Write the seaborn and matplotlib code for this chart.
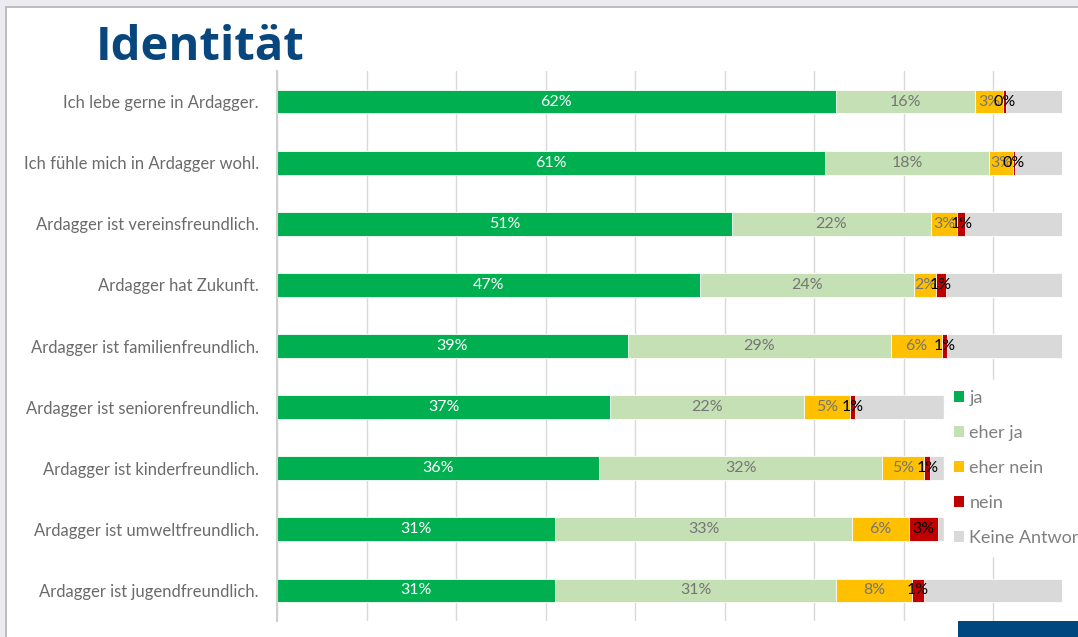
import numpy as np
import pandas as pd
import matplotlib
matplotlib.use("Agg")
import matplotlib.pyplot as plt
import seaborn as sns
from matplotlib.patches import Rectangle, Patch

# DATA (percent)
statements = [
    "Ich lebe gerne in Ardagger.",
    "Ich fühle mich in Ardagger wohl.",
    "Ardagger ist vereinsfreundlich.",
    "Ardagger hat Zukunft.",
    "Ardagger ist familienfreundlich.",
    "Ardagger ist seniorenfreundlich.",
    "Ardagger ist kinderfreundlich.",
    "Ardagger ist umweltfreundlich.",
    "Ardagger ist jugendfreundlich.",
]
ja = [62.4, 61.2, 50.8, 47.3, 39.2, 37.2, 36.0, 31.1, 31.1]
eher_ja = [15.6, 18.4, 22.3, 23.9, 29.4, 21.7, 31.6, 33.1, 31.4]
eher_nein = [3.1, 2.6, 2.9, 2.4, 5.7, 5.1, 4.7, 6.4, 8.4]
nein = [0.3, 0.3, 0.9, 1.1, 0.6, 0.6, 0.7, 3.2, 1.4]
keine_antwort = list(100 - np.array(ja) - np.array(eher_ja) - np.array(eher_nein) - np.array(nein))

series_names = ["ja", "eher ja", "eher nein", "nein", "Keine Antwort"]
series_values = [ja, eher_ja, eher_nein, nein, keine_antwort]
series_colors = ["#00B050", "#C5E0B4", "#FFC000", "#C00000", "#D9D9D9"]
label_colors = ["white", "#757575", "#757575", "black", None]

sns.set_style("white")
plt.rcParams['font.family'] = ['Lato', 'DejaVu Sans']

fig = plt.figure(figsize=(10.78, 6.37), dpi=100)
W, H = 1078, 637
ax = fig.add_axes([277 / W, (H - 621) / H, (1062 - 277) / W, 550 / H])

# stacked bars: draw cumulative totals from the back to the front
cum = np.cumsum(np.array(series_values), axis=0)
for i in range(len(series_names) - 1, -1, -1):
    df = pd.DataFrame({"stmt": statements, "val": cum[i]})
    sns.barplot(data=df, x="val", y="stmt", orient="h", color=series_colors[i],
                saturation=1, width=0.39, edgecolor="white", linewidth=0.6, ax=ax)

# segment labels
for i, vals in enumerate(series_values):
    if label_colors[i] is None:
        continue
    starts = cum[i] - np.array(vals)
    for row, (s, v) in enumerate(zip(starts, vals)):
        ax.text(s + v / 2, row, f"{v:.0f}%", ha="center", va="center",
                fontsize=11.5, color=label_colors[i], zorder=5)

ax.set_xlim(0, 87.7)
ax.set_xticks(np.arange(0, 90, 10))
ax.set_xticklabels([])
ax.tick_params(axis="x", length=0)
ax.tick_params(axis="y", length=0, labelsize=12, labelcolor="#6b6b6b", pad=13)
ax.set_xlabel("")
ax.set_ylabel("")
ax.grid(axis="x", color="#D9D9D9", linewidth=1)
ax.set_axisbelow(True)
for side in ["top", "right", "bottom"]:
    ax.spines[side].set_visible(False)
ax.spines["left"].set_color("#D0D0D0")
ax.spines["left"].set_linewidth(1.5)

# legend on a white box, over the bars
handles = [Patch(facecolor=c, edgecolor="none") for c in series_colors]
leg = fig.legend(handles, series_names, loc="upper left",
                 bbox_to_anchor=(944 / W, 1 - 380 / H), borderaxespad=0,
                 frameon=True, fancybox=False, framealpha=1, facecolor="white",
                 edgecolor="white", fontsize=13, labelcolor="#808080",
                 handlelength=0.55, handleheight=0.55, handletextpad=0.3,
                 labelspacing=1.05, borderpad=0.55)

# title
fig.text(96 / W, 1 - 60 / H, "Identität", fontsize=34, fontweight="bold",
         color="#08467E", family=["Open Sans", "DejaVu Sans"], va="baseline")

# page frame decoration
fig.patches.append(Rectangle((0, 1 - 6 / H), 1, 6 / H, transform=fig.transFigure,
                             facecolor="#EBEBF0", edgecolor="none"))
fig.patches.append(Rectangle((0, 1 - 7.5 / H), 1, 1.5 / H, transform=fig.transFigure,
                             facecolor="#BDBDBD", edgecolor="none"))
fig.patches.append(Rectangle((0, 0), 5 / W, 1, transform=fig.transFigure,
                             facecolor="#EBEBF0", edgecolor="none"))
fig.patches.append(Rectangle((5 / W, 0), 2 / W, 1 - 6 / H, transform=fig.transFigure,
                             facecolor="#BDBDBD", edgecolor="none"))
fig.patches.append(Rectangle((958 / W, 0), 120 / W, 16 / H, transform=fig.transFigure,
                             facecolor="#00467F", edgecolor="none"))

fig.savefig("out.png", dpi=100)
